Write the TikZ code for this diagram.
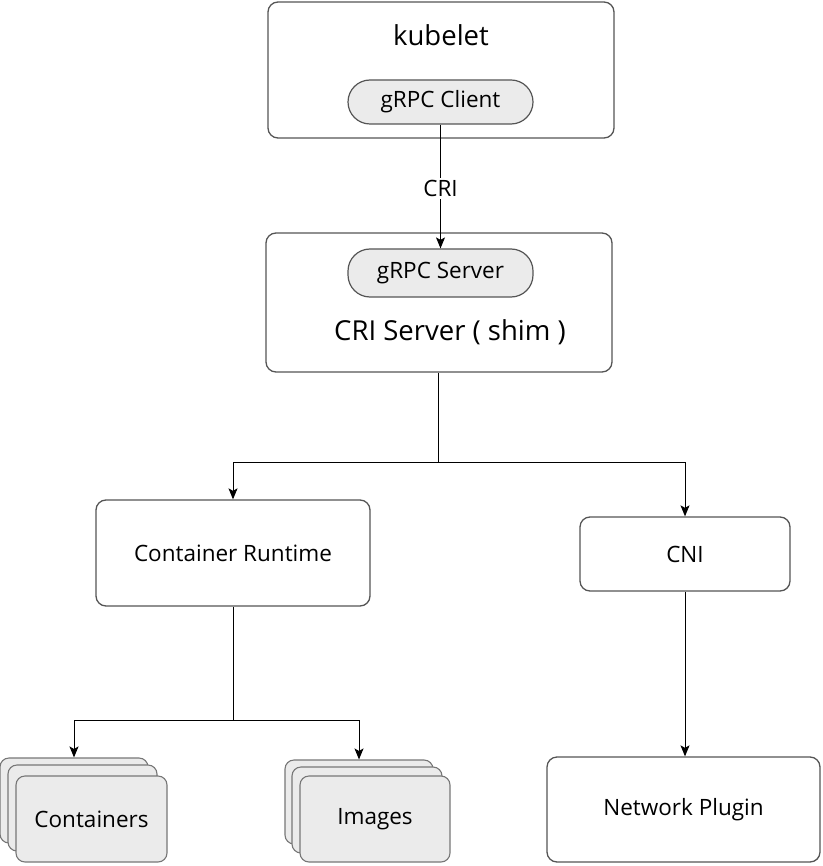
\documentclass[tikz,border=0pt]{standalone}
\usepackage{fontspec}
\setmainfont{Open Sans}
\usetikzlibrary{arrows.meta}
\definecolor{bord}{HTML}{555555}
\definecolor{pillfill}{HTML}{EBEBEB}
\tikzset{
  box/.style={draw=bord, line width=1.3pt, rounded corners=10pt, fill=white, inner sep=0pt},
  pill/.style={draw=bord, line width=1.2pt, rounded corners=22pt, fill=pillfill, inner sep=0pt},
  card/.style={draw=bord!80, line width=1.1pt, rounded corners=9pt, fill=pillfill, inner sep=0pt},
  conn/.style={draw=black, line width=1pt, -{Stealth[length=11pt,width=9pt,inset=2.5pt]}},
  plain/.style={draw=black, line width=1pt},
  big/.style={font=\fontsize{27.5}{32}\selectfont},
  mid/.style={font=\fontsize{22.5}{27}\selectfont},
}
\begin{document}
\begin{tikzpicture}[x=1pt,y=-1pt]
\useasboundingbox (0,0) rectangle (822,866);
% kubelet
\node[box, minimum width=346pt, minimum height=136pt] (kub) at (441,70) {};
\node[big] (kubt) at (441,35) {kubelet};
\node[pill, mid, minimum width=185pt, minimum height=44pt] (gcl) at (440.5,102) {gRPC Client};
% CRI server
\node[box, minimum width=346pt, minimum height=139pt] (cri) at (439,302.5) {};
\node[pill, mid, minimum width=185pt, minimum height=48pt] (gsv) at (440.5,273) {gRPC Server};
\node[big] (crit) at (450,332) {CRI Server ( shim )};
% Container runtime, CNI
\node[box, mid, minimum width=274pt, minimum height=106pt] (cr) at (233,553) {Container Runtime};
\node[box, mid, minimum width=210pt, minimum height=74pt] (cni) at (685,554) {CNI};
\node[box, mid, minimum width=273pt, minimum height=105pt] (np) at (683.5,809.5) {Network Plugin};
% Containers stack
\node[card, minimum width=148pt, minimum height=85pt] (c1) at (74,800.5) {};
\node[card, minimum width=149pt, minimum height=86pt] (c2) at (82.5,808) {};
\node[card, mid, minimum width=151pt, minimum height=86pt] (c3) at (91.5,819) {Containers};
% Images stack
\node[card, minimum width=148pt, minimum height=84pt] (i1) at (359,802) {};
\node[card, minimum width=150pt, minimum height=86pt] (i2) at (367,810) {};
\node[card, mid, minimum width=150pt, minimum height=86pt] (i3) at (375,819) {Images};
% connectors
\draw[conn] (gcl.south) -- node[fill=white, mid, inner sep=2pt, yshift=-2pt] (crilbl) {CRI} (gsv.north);
\coordinate (j1) at (438,462);
\coordinate (j2) at (233,720);
\draw[plain] (cri.south -| j1) -- (j1);
\draw[conn] (j1) -| (cr.north);
\draw[conn] (j1) -| (cni.north);
\draw[conn] (cni.south) -- (np.north -| cni.south);
\draw[plain] (cr.south) -- (j2);
\draw[conn] (j2) -| (c1.north);
\draw[conn] (j2) -| (i1.north);
\end{tikzpicture}
\end{document}
